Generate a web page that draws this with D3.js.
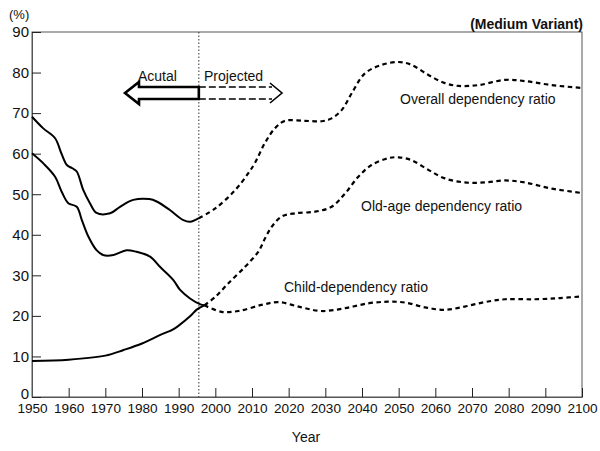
<!DOCTYPE html>
<html>
<head>
<meta charset="utf-8">
<script src="https://cdn.jsdelivr.net/npm/d3@7"></script>
<style>
  html, body { margin: 0; padding: 0; background: #fff; }
  svg { display: block; font-family: "Liberation Sans", Arial, Helvetica, sans-serif; }
</style>
</head>
<body>
<svg id="chart" width="600" height="451"></svg>
<script>
// ---------------- data ----------------
const xTicks = [1950, 1960, 1970, 1980, 1990, 2000, 2010, 2020, 2030, 2040, 2050, 2060, 2070, 2080, 2090, 2100];
const yTicks = [0, 10, 20, 30, 40, 50, 60, 70, 80, 90];

const projectionYear = 1995.5;   // dotted divider: actual | projected
const crossingYear = 1997;       // child / old-age curves switch to dashed here

const overallYears  = [1950, 1953, 1956.3, 1958, 1959.5, 1961, 1962.2, 1964, 1965.8, 1967.6, 1971.3, 1974, 1977.6, 1982, 1984, 1987.6, 1991.3, 1993.1, 1995.5,
                       2000, 2005.4, 2009, 2010.8, 2013.5, 2016.3, 2019, 2024.4, 2029, 2031.7, 2034.5, 2037.2, 2040.8, 2045.4, 2050, 2053.5, 2058.1, 2062.6, 2066.3, 2071.7, 2079, 2084.4, 2091.7, 2100];
const overallValues = [69.1, 66.3, 63.8, 60.1, 57.2, 56.4, 55.6, 51.0, 47.8, 45.4, 45.3, 46.9, 48.6, 48.8, 48.2, 46.1, 43.6, 43.2, 44.1,
                       46.5, 51.0, 55.2, 57.7, 62.6, 66.3, 68.1, 68.1, 68.0, 68.7, 70.8, 74.9, 79.8, 81.9, 82.6, 81.9, 79.4, 77.4, 76.7, 76.9, 78.2, 77.9, 76.9, 76.2];

const childYears  = [1950, 1953.1, 1956.3, 1958.1, 1959.9, 1962.2, 1963.6, 1965.4, 1967.6, 1969.4, 1972.2, 1975.8, 1978.5, 1982.2, 1984.9, 1988.5, 1990.4, 1993.1, 1995.8, 1997,
                     2001.7, 2006.3, 2012.6, 2017.2, 2023.5, 2029, 2035.4, 2041.7, 2047, 2051.7, 2057.2, 2062.6, 2068, 2073.5, 2079, 2087.2, 2094, 2100];
const childValues = [60.1, 57.6, 54.3, 50.6, 47.8, 46.9, 43.6, 39.5, 36.2, 35.0, 35.0, 36.2, 35.8, 34.6, 32.1, 28.9, 26.4, 24.3, 22.9, 22.6,
                     21.0, 21.2, 22.7, 23.4, 22.1, 21.2, 21.9, 23.1, 23.5, 23.3, 22.1, 21.5, 22.3, 23.4, 24.1, 24.1, 24.4, 24.8];

const oldAgeYears  = [1950, 1960, 1970, 1975, 1980, 1985, 1988.5, 1990, 1993.1, 1995, 1997,
                      2000, 2003.5, 2008.1, 2011.7, 2013.5, 2015.4, 2018.1, 2021.7, 2027.2, 2031.7, 2035.4, 2039, 2042.6, 2047.2, 2050, 2053.5, 2058.1, 2062.6, 2068, 2073.5, 2079, 2084.4, 2091.7, 2100];
const oldAgeValues = [8.9, 9.2, 10.2, 11.6, 13.2, 15.3, 16.7, 17.6, 19.9, 21.6, 22.6,
                      24.7, 28.0, 32.1, 35.8, 39.0, 42.0, 44.5, 45.3, 45.7, 46.9, 50.2, 54.3, 57.2, 58.9, 59.1, 58.4, 56.0, 53.9, 52.9, 52.9, 53.4, 52.9, 51.4, 50.3];

const seriesLabels = ["Overall dependency ratio", "Old-age dependency ratio", "Child-dependency ratio"];
const arrowLabels = ["Acutal", "Projected"];

// ---------------- layout ----------------
const svg = d3.select("#chart");
const margin = { left: 32, right: 18, top: 32, bottom: 54 };
const W = 600, H = 451;
const x = d3.scaleLinear().domain([1950, 2100]).range([margin.left, W - margin.right]);
const y = d3.scaleLinear().domain([0, 90]).range([H - margin.bottom, margin.top]);

const frameColor = "#555";

// frame
svg.append("rect")
  .attr("x", x(1950)).attr("y", y(90))
  .attr("width", x(2100) - x(1950)).attr("height", y(0) - y(90))
  .attr("fill", "none").attr("stroke", frameColor).attr("stroke-width", 1);

// axes
const xAxis = svg.append("g")
  .attr("transform", `translate(0,${y(0)})`)
  .call(d3.axisBottom(x).tickValues(xTicks).tickFormat(d3.format("d")).tickSizeInner(-9).tickSizeOuter(0).tickPadding(6));
const yAxis = svg.append("g")
  .attr("transform", `translate(${x(1950)},0)`)
  .call(d3.axisLeft(y).tickValues(yTicks).tickSizeInner(-9).tickSizeOuter(0).tickPadding(3));

[xAxis, yAxis].forEach(g => {
  g.select(".domain").attr("stroke", frameColor);
  g.selectAll(".tick line").attr("stroke", "#222").attr("stroke-width", 1);
  g.selectAll(".tick text").attr("fill", "#111").attr("font-family", '"Liberation Sans", Arial, sans-serif');
});
xAxis.selectAll(".tick text").attr("font-size", 13.6);
yAxis.selectAll(".tick text").attr("font-size", 15);
// lift the "0" label a little so it does not collide with "1950"
yAxis.selectAll(".tick").filter(d => d === 0).select("text").attr("dy", "0.12em");

// divider
svg.append("line")
  .attr("x1", x(projectionYear)).attr("x2", x(projectionYear))
  .attr("y1", y(90)).attr("y2", y(0))
  .attr("stroke", "#333").attr("stroke-width", 1).attr("stroke-dasharray", "1.5,2");

// lines
const line = d3.line()
  .x(d => x(d[0])).y(d => y(d[1]))
  .curve(d3.curveCatmullRom.alpha(0.5));

function drawSeries(years, values, split) {
  const pts = years.map((yr, i) => [yr, values[i]]);
  const actual = pts.filter(p => p[0] <= split);
  const proj = pts.filter(p => p[0] >= split);
  svg.append("path").attr("d", line(actual))
    .attr("fill", "none").attr("stroke", "#000").attr("stroke-width", 2);
  svg.append("path").attr("d", line(proj))
    .attr("fill", "none").attr("stroke", "#000").attr("stroke-width", 2.2)
    .attr("stroke-dasharray", "4.5,3.5");
}
drawSeries(overallYears, overallValues, projectionYear);
drawSeries(childYears, childValues, crossingYear);
drawSeries(oldAgeYears, oldAgeValues, crossingYear);

// series labels
const labelFont = 14;
svg.append("text").text(seriesLabels[0]).attr("x", 400).attr("y", 104).attr("font-size", labelFont).attr("fill", "#111");
svg.append("text").text(seriesLabels[1]).attr("x", 361).attr("y", 211).attr("font-size", labelFont).attr("fill", "#111");
svg.append("text").text(seriesLabels[2]).attr("x", 284).attr("y", 292).attr("font-size", labelFont).attr("fill", "#111");

// titles
svg.append("text").text("(%)").attr("x", 9).attr("y", 19).attr("font-size", 13).attr("fill", "#111");
svg.append("text").text("(Medium Variant)").attr("x", 583).attr("y", 29).attr("text-anchor", "end")
  .attr("font-size", 14).attr("font-weight", "bold").attr("fill", "#111");
svg.append("text").text("Year").attr("x", 306).attr("y", 442).attr("text-anchor", "middle")
  .attr("font-size", 14).attr("fill", "#111");

// arrow (actual <- | -> projected)
const ax = x(projectionYear);
const aTop = 87, aBot = 99, aMid = 93;
svg.append("path")
  .attr("d", `M${ax},${aTop} L139,${aTop} L139,82 L125,${aMid} L139,104 L139,${aBot} L${ax},${aBot} Z`)
  .attr("fill", "none").attr("stroke", "#000").attr("stroke-width", 2.6).attr("stroke-linejoin", "miter");
svg.append("path")
  .attr("d", `M${ax},${aTop} L272,${aTop} M${ax},${aBot} L272,${aBot}`)
  .attr("fill", "none").attr("stroke", "#000").attr("stroke-width", 1.6).attr("stroke-dasharray", "7,3");
svg.append("path")
  .attr("d", `M270,83 L282,${aMid} L270,103`)
  .attr("fill", "none").attr("stroke", "#000").attr("stroke-width", 1.6);
svg.append("text").text(arrowLabels[0]).attr("x", 138).attr("y", 81).attr("font-size", 14).attr("fill", "#111");
svg.append("text").text(arrowLabels[1]).attr("x", 204).attr("y", 81).attr("font-size", 14).attr("fill", "#111");
</script>
</body>
</html>
